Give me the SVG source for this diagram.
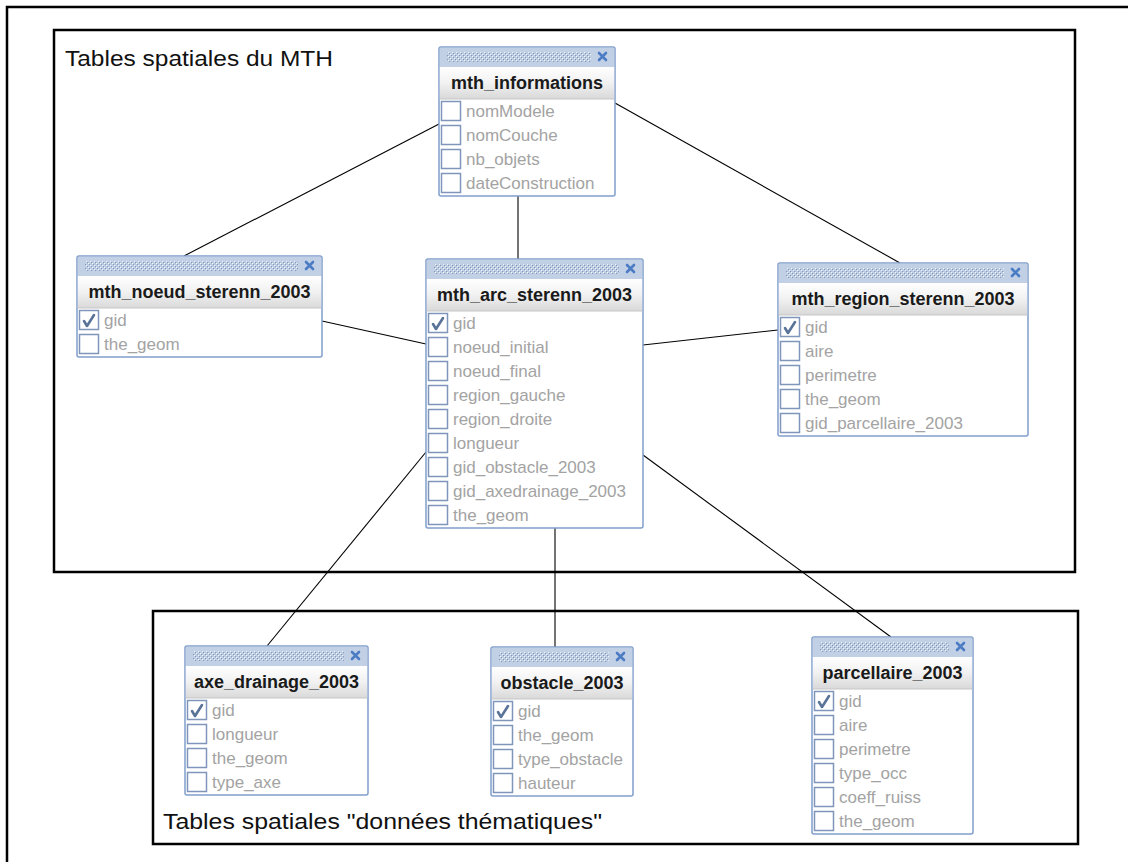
<svg xmlns="http://www.w3.org/2000/svg" width="1128" height="862" viewBox="0 0 1128 862">
<style>
.frame{fill:none;stroke:#000;stroke-width:2.5}
.lbl{font-family:"Liberation Sans",Arial,sans-serif;font-size:22px;fill:#111}
.box{fill:#fff;stroke:#819fcb;stroke-width:1.5}
.tbar{fill:#c2d0e6}
.dots{fill:url(#dots)}
.xic{stroke:#4c7cc4;stroke-width:2.6;stroke-linecap:round}
.hdr{fill:url(#hdr)}
.hline{stroke:#c6c6c6;stroke-width:1}
.name{font-family:"Liberation Sans",Arial,sans-serif;font-size:18px;font-weight:bold;fill:#1a1a1a;text-anchor:middle}
.cb{fill:#fff;stroke:#7f96ba;stroke-width:1.5}
.chk{fill:none;stroke:#5a7399;stroke-width:2.6;stroke-linecap:round;stroke-linejoin:round}
.fld{font-family:"Liberation Sans",Arial,sans-serif;font-size:17px;fill:#a3a3a3}
.conn line{stroke:#000;stroke-width:1.1}
</style>
<defs>
<pattern id="dots" width="4" height="4" patternUnits="userSpaceOnUse">
<rect width="4" height="4" fill="#c2d0e6"/>
<rect x="0" y="0" width="1.2" height="1.2" fill="#8299bd"/>
<rect x="2" y="2" width="1.2" height="1.2" fill="#8299bd"/>
<rect x="1" y="1" width="1" height="1" fill="#f4f7fc"/>
<rect x="3" y="3" width="1" height="1" fill="#f4f7fc"/>
</pattern>
<linearGradient id="hdr" x1="0" y1="0" x2="0" y2="1">
<stop offset="0" stop-color="#ffffff"/>
<stop offset="0.5" stop-color="#f1f1f1"/>
<stop offset="1" stop-color="#d9d9d9"/>
</linearGradient>
</defs>
<rect width="1128" height="862" fill="#fff"/>
<path class="frame" d="M7,862 V7 H1128" stroke-width="2"/>
<g id="zone-mth">
<rect class="frame" x="54" y="30" width="1021" height="542"/>
<text class="lbl" x="65" y="66" textLength="268" lengthAdjust="spacingAndGlyphs">Tables spatiales du MTH</text>
</g>
<g id="zone-thematiques">
<rect class="frame" x="153" y="611" width="925" height="233"/>
<text class="lbl" x="163" y="829" textLength="439" lengthAdjust="spacingAndGlyphs">Tables spatiales "données thématiques"</text>
</g>
<g class="conn" id="connectors">
<line x1="439" y1="124" x2="184" y2="256"/>
<line x1="615" y1="103" x2="900" y2="263"/>
<line x1="518" y1="196" x2="518" y2="259"/>
<line x1="322" y1="321" x2="426" y2="344"/>
<line x1="643" y1="345" x2="778" y2="330"/>
<line x1="426" y1="452" x2="267" y2="646"/>
<line x1="555" y1="528" x2="555" y2="647"/>
<line x1="643" y1="455" x2="891" y2="637"/>
</g>
<g id="mth_informations" transform="translate(439,47)">
<rect class="box" x="0" y="0" width="176" height="149" rx="2"/>
<rect class="tbar" x="0.8" y="0.8" width="174.4" height="19.2"/>
<rect class="dots" x="8" y="5" width="144" height="10"/>
<path class="xic" d="M160,6 l7,7 M167,6 l-7,7"/>
<rect class="hdr" x="0.8" y="20" width="174.4" height="32"/>
<line class="hline" x1="0.8" y1="52" x2="175.2" y2="52"/>
<text class="name" x="88" y="42">mth_informations</text>
<rect class="cb" x="2.5" y="54.5" width="19" height="19"/><text class="fld" x="27" y="70">nomModele</text>
<rect class="cb" x="2.5" y="78.5" width="19" height="19"/><text class="fld" x="27" y="94">nomCouche</text>
<rect class="cb" x="2.5" y="102.5" width="19" height="19"/><text class="fld" x="27" y="118">nb_objets</text>
<rect class="cb" x="2.5" y="126.5" width="19" height="19"/><text class="fld" x="27" y="142">dateConstruction</text>
</g>
<g id="mth_noeud_sterenn_2003" transform="translate(77,256)">
<rect class="box" x="0" y="0" width="245" height="101" rx="2"/>
<rect class="tbar" x="0.8" y="0.8" width="243.4" height="19.2"/>
<rect class="dots" x="8" y="5" width="213" height="10"/>
<path class="xic" d="M229,6 l7,7 M236,6 l-7,7"/>
<rect class="hdr" x="0.8" y="20" width="243.4" height="32"/>
<line class="hline" x1="0.8" y1="52" x2="244.2" y2="52"/>
<text class="name" x="122.5" y="42">mth_noeud_sterenn_2003</text>
<rect class="cb" x="2.5" y="54.5" width="19" height="19"/><path class="chk" d="M7,65 l3,5 l7,-11"/><text class="fld" x="27" y="70">gid</text>
<rect class="cb" x="2.5" y="78.5" width="19" height="19"/><text class="fld" x="27" y="94">the_geom</text>
</g>
<g id="mth_arc_sterenn_2003" transform="translate(426,259)">
<rect class="box" x="0" y="0" width="217" height="269" rx="2"/>
<rect class="tbar" x="0.8" y="0.8" width="215.4" height="19.2"/>
<rect class="dots" x="8" y="5" width="185" height="10"/>
<path class="xic" d="M201,6 l7,7 M208,6 l-7,7"/>
<rect class="hdr" x="0.8" y="20" width="215.4" height="32"/>
<line class="hline" x1="0.8" y1="52" x2="216.2" y2="52"/>
<text class="name" x="108.5" y="42">mth_arc_sterenn_2003</text>
<rect class="cb" x="2.5" y="54.5" width="19" height="19"/><path class="chk" d="M7,65 l3,5 l7,-11"/><text class="fld" x="27" y="70">gid</text>
<rect class="cb" x="2.5" y="78.5" width="19" height="19"/><text class="fld" x="27" y="94">noeud_initial</text>
<rect class="cb" x="2.5" y="102.5" width="19" height="19"/><text class="fld" x="27" y="118">noeud_final</text>
<rect class="cb" x="2.5" y="126.5" width="19" height="19"/><text class="fld" x="27" y="142">region_gauche</text>
<rect class="cb" x="2.5" y="150.5" width="19" height="19"/><text class="fld" x="27" y="166">region_droite</text>
<rect class="cb" x="2.5" y="174.5" width="19" height="19"/><text class="fld" x="27" y="190">longueur</text>
<rect class="cb" x="2.5" y="198.5" width="19" height="19"/><text class="fld" x="27" y="214">gid_obstacle_2003</text>
<rect class="cb" x="2.5" y="222.5" width="19" height="19"/><text class="fld" x="27" y="238">gid_axedrainage_2003</text>
<rect class="cb" x="2.5" y="246.5" width="19" height="19"/><text class="fld" x="27" y="262">the_geom</text>
</g>
<g id="mth_region_sterenn_2003" transform="translate(778,263)">
<rect class="box" x="0" y="0" width="250" height="173" rx="2"/>
<rect class="tbar" x="0.8" y="0.8" width="248.4" height="19.2"/>
<rect class="dots" x="8" y="5" width="218" height="10"/>
<path class="xic" d="M234,6 l7,7 M241,6 l-7,7"/>
<rect class="hdr" x="0.8" y="20" width="248.4" height="32"/>
<line class="hline" x1="0.8" y1="52" x2="249.2" y2="52"/>
<text class="name" x="125" y="42">mth_region_sterenn_2003</text>
<rect class="cb" x="2.5" y="54.5" width="19" height="19"/><path class="chk" d="M7,65 l3,5 l7,-11"/><text class="fld" x="27" y="70">gid</text>
<rect class="cb" x="2.5" y="78.5" width="19" height="19"/><text class="fld" x="27" y="94">aire</text>
<rect class="cb" x="2.5" y="102.5" width="19" height="19"/><text class="fld" x="27" y="118">perimetre</text>
<rect class="cb" x="2.5" y="126.5" width="19" height="19"/><text class="fld" x="27" y="142">the_geom</text>
<rect class="cb" x="2.5" y="150.5" width="19" height="19"/><text class="fld" x="27" y="166">gid_parcellaire_2003</text>
</g>
<g id="axe_drainage_2003" transform="translate(185,646)">
<rect class="box" x="0" y="0" width="183" height="149" rx="2"/>
<rect class="tbar" x="0.8" y="0.8" width="181.4" height="19.2"/>
<rect class="dots" x="8" y="5" width="151" height="10"/>
<path class="xic" d="M167,6 l7,7 M174,6 l-7,7"/>
<rect class="hdr" x="0.8" y="20" width="181.4" height="32"/>
<line class="hline" x1="0.8" y1="52" x2="182.2" y2="52"/>
<text class="name" x="91.5" y="42">axe_drainage_2003</text>
<rect class="cb" x="2.5" y="54.5" width="19" height="19"/><path class="chk" d="M7,65 l3,5 l7,-11"/><text class="fld" x="27" y="70">gid</text>
<rect class="cb" x="2.5" y="78.5" width="19" height="19"/><text class="fld" x="27" y="94">longueur</text>
<rect class="cb" x="2.5" y="102.5" width="19" height="19"/><text class="fld" x="27" y="118">the_geom</text>
<rect class="cb" x="2.5" y="126.5" width="19" height="19"/><text class="fld" x="27" y="142">type_axe</text>
</g>
<g id="obstacle_2003" transform="translate(491,647)">
<rect class="box" x="0" y="0" width="142" height="149" rx="2"/>
<rect class="tbar" x="0.8" y="0.8" width="140.4" height="19.2"/>
<rect class="dots" x="8" y="5" width="110" height="10"/>
<path class="xic" d="M126,6 l7,7 M133,6 l-7,7"/>
<rect class="hdr" x="0.8" y="20" width="140.4" height="32"/>
<line class="hline" x1="0.8" y1="52" x2="141.2" y2="52"/>
<text class="name" x="71" y="42">obstacle_2003</text>
<rect class="cb" x="2.5" y="54.5" width="19" height="19"/><path class="chk" d="M7,65 l3,5 l7,-11"/><text class="fld" x="27" y="70">gid</text>
<rect class="cb" x="2.5" y="78.5" width="19" height="19"/><text class="fld" x="27" y="94">the_geom</text>
<rect class="cb" x="2.5" y="102.5" width="19" height="19"/><text class="fld" x="27" y="118">type_obstacle</text>
<rect class="cb" x="2.5" y="126.5" width="19" height="19"/><text class="fld" x="27" y="142">hauteur</text>
</g>
<g id="parcellaire_2003" transform="translate(812,637)">
<rect class="box" x="0" y="0" width="161" height="197" rx="2"/>
<rect class="tbar" x="0.8" y="0.8" width="159.4" height="19.2"/>
<rect class="dots" x="8" y="5" width="129" height="10"/>
<path class="xic" d="M145,6 l7,7 M152,6 l-7,7"/>
<rect class="hdr" x="0.8" y="20" width="159.4" height="32"/>
<line class="hline" x1="0.8" y1="52" x2="160.2" y2="52"/>
<text class="name" x="80.5" y="42">parcellaire_2003</text>
<rect class="cb" x="2.5" y="54.5" width="19" height="19"/><path class="chk" d="M7,65 l3,5 l7,-11"/><text class="fld" x="27" y="70">gid</text>
<rect class="cb" x="2.5" y="78.5" width="19" height="19"/><text class="fld" x="27" y="94">aire</text>
<rect class="cb" x="2.5" y="102.5" width="19" height="19"/><text class="fld" x="27" y="118">perimetre</text>
<rect class="cb" x="2.5" y="126.5" width="19" height="19"/><text class="fld" x="27" y="142">type_occ</text>
<rect class="cb" x="2.5" y="150.5" width="19" height="19"/><text class="fld" x="27" y="166">coeff_ruiss</text>
<rect class="cb" x="2.5" y="174.5" width="19" height="19"/><text class="fld" x="27" y="190">the_geom</text>
</g>
</svg>
